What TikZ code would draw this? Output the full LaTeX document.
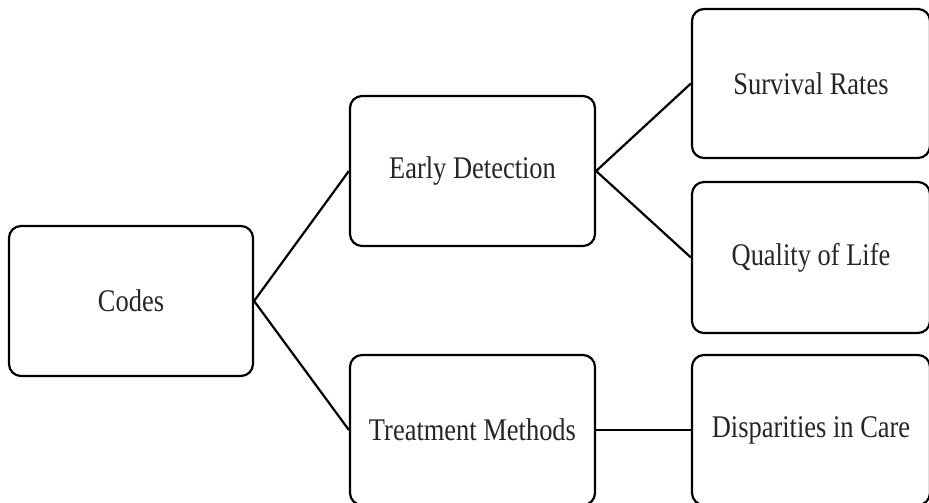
\documentclass[tikz,border=0pt]{standalone}
\usepackage{fontspec}
\setmainfont{Liberation Serif}[FakeStretch=0.84]
\begin{document}
\begin{tikzpicture}[x=1pt,y=-1pt,
  box/.style={draw=black, line width=2.2pt, rounded corners=12pt, fill=white,
    inner sep=0pt, font=\fontsize{31.5}{36}\selectfont, text=black!85},
  link/.style={draw=black, line width=2.2pt}]
\useasboundingbox (0,0) rectangle (929,503);
\clip (0,0) rectangle (929,503);
\fill[white] (0,0) rectangle (929,503);
\node[box, minimum width=244pt, minimum height=150pt] (codes) at (131,301) {Codes};
\node[box, minimum width=245pt, minimum height=150pt] (early) at (472.5,171) {Early Detection};
\node[box, minimum width=245pt, minimum height=150pt] (treat) at (472.5,430) {Treatment Methods};
\node[box, minimum width=238pt, minimum height=149pt] (surv) at (811,83.5) {Survival Rates};
\node[box, minimum width=238pt, minimum height=151pt] (qual) at (811,257.5) {Quality of Life};
\node[box, minimum width=238pt, minimum height=150pt] (disp) at (811,430) {Disparities in Care};
\draw[link] (codes.east) -- (early.west);
\draw[link] (codes.east) -- (treat.west);
\draw[link] (early.east) -- (surv.west);
\draw[link] (early.east) -- (qual.west);
\draw[link] (treat.east) -- (disp.west);
\end{tikzpicture}
\end{document}
